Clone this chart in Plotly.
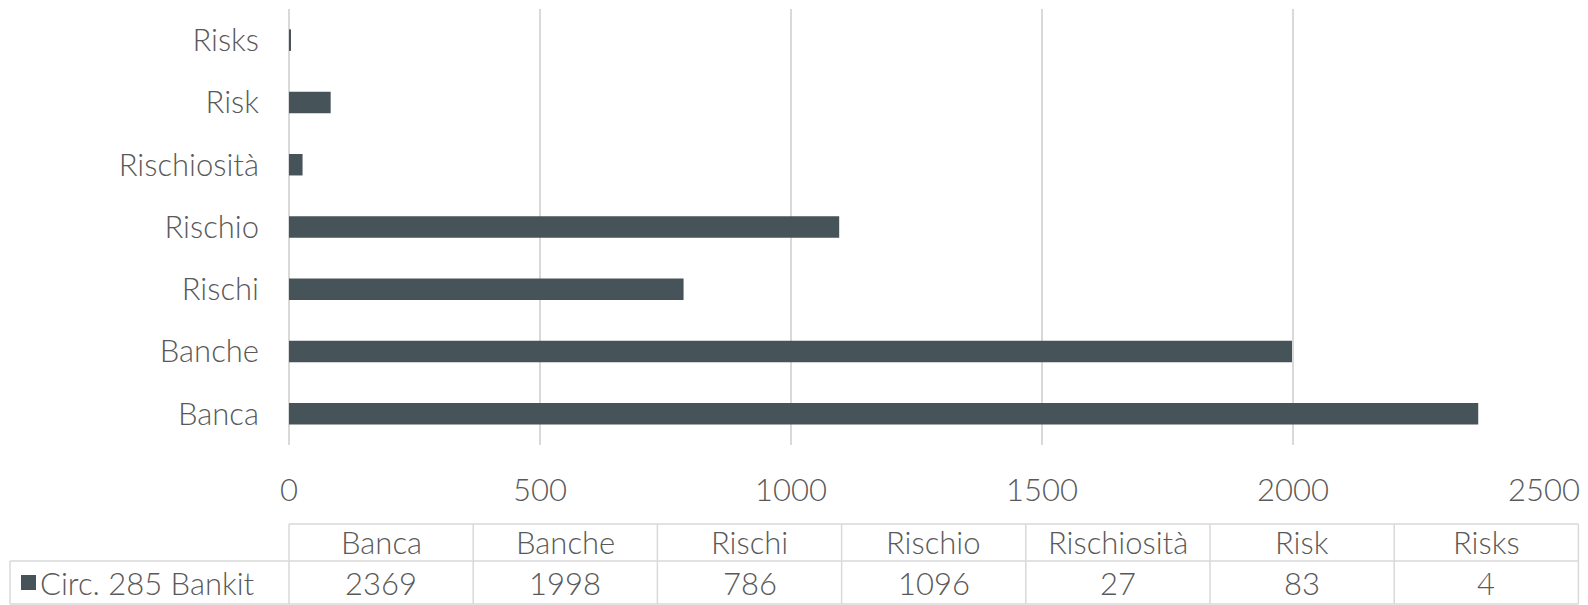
import plotly.graph_objects as go

categories = ["Banca", "Banche", "Rischi", "Rischio", "Rischiosità", "Risk", "Risks"]
values = [2369, 1998, 786, 1096, 27, 83, 4]
series_name = "Circ. 285 Bankit"
x_ticks = [0, 500, 1000, 1500, 2000, 2500]

W, H = 1588, 605
L, R, T, B = 289, 44, 9, 160
plot_w = W - L - R
plot_h = H - T - B
BAR = "#465359"
TXT = "#595959"
GRID = "#d9d9d9"
FONT = "Lato"
FS = 31
FW = 300

def px(x):
    return (x - L) / plot_w

def py(y):
    return (H - B - y) / plot_h

fnt = dict(family=FONT, size=FS, color=TXT, weight=FW)

fig = go.Figure(go.Bar(
    x=values, y=categories, orientation="h", name=series_name,
    marker=dict(color=BAR, line=dict(width=0)), width=0.345,
))

# table shapes & text
shapes = []
annotations = []
col_w = 184.2
x0 = L
top, mid, bot = 524, 561, 604
ncol = len(categories)
right = x0 + ncol * col_w
line = dict(color=GRID, width=1.5)
shapes.append(dict(type="line", xref="paper", yref="paper", x0=px(x0), x1=px(right), y0=py(top), y1=py(top), line=line))
shapes.append(dict(type="line", xref="paper", yref="paper", x0=px(10), x1=px(right), y0=py(mid), y1=py(mid), line=line))
shapes.append(dict(type="line", xref="paper", yref="paper", x0=px(10), x1=px(right), y0=py(bot), y1=py(bot), line=line))
shapes.append(dict(type="line", xref="paper", yref="paper", x0=px(10), x1=px(10), y0=py(mid), y1=py(bot), line=line))
for i in range(ncol + 1):
    xx = x0 + i * col_w
    shapes.append(dict(type="line", xref="paper", yref="paper", x0=px(xx), x1=px(xx), y0=py(top), y1=py(bot), line=line))
for i, (c, v) in enumerate(zip(categories, values)):
    cx = x0 + (i + 0.5) * col_w
    annotations.append(dict(xref="paper", yref="paper", x=px(cx), y=py((top + mid) / 2 - 1), text=c,
                            showarrow=False, xanchor="center", yanchor="middle", font=fnt))
    annotations.append(dict(xref="paper", yref="paper", x=px(cx), y=py((mid + bot) / 2), text=str(v),
                            showarrow=False, xanchor="center", yanchor="middle", font=fnt))
# legend key
shapes.append(dict(type="rect", xref="paper", yref="paper", x0=px(21), x1=px(36), y0=py(575), y1=py(590),
                   fillcolor=BAR, line=dict(width=0)))
annotations.append(dict(xref="paper", yref="paper", x=px(38), y=py((mid + bot) / 2), text=series_name,
                        showarrow=False, xanchor="left", yanchor="middle", font=fnt))

fig.update_layout(
    width=W, height=H,
    margin=dict(l=L, r=R, t=T, b=B),
    paper_bgcolor="white", plot_bgcolor="white",
    showlegend=False,
    font=fnt,
    xaxis=dict(range=[0, 2500], tickvals=x_ticks, showgrid=True, gridcolor=GRID, gridwidth=1.5,
               zeroline=True, zerolinecolor=GRID, zerolinewidth=1.5, showline=False,
               ticklabelstandoff=24, tickfont=fnt),
    yaxis=dict(categoryorder="array", categoryarray=categories, showgrid=False, showline=False,
               ticklabelstandoff=29, tickfont=fnt),
    shapes=shapes, annotations=annotations,
)

fig.write_html("out.html")
